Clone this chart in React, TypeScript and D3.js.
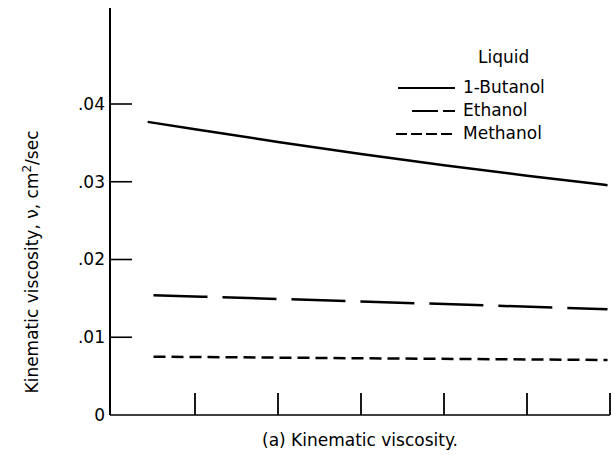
import React from "react";
import * as d3 from "d3";

const yTicks = [0, 0.01, 0.02, 0.03, 0.04];
const yTickLabels = ["0", ".01", ".02", ".03", ".04"];
const xTicks = [1, 2, 3, 4, 5, 6];

const butanolX = [0.43, 1, 2, 3, 4, 5, 5.97];
const butanolY = [0.0377, 0.03674, 0.03512, 0.03357, 0.03212, 0.03077, 0.02956];
const ethanolX = [0.5, 3, 5.97];
const ethanolY = [0.0154, 0.0146, 0.0136];
const methanolX = [0.5, 3, 5.97];
const methanolY = [0.0075, 0.0073, 0.00707];

const seriesNames = ["1-Butanol", "Ethanol", "Methanol"];
const dashes = ["none", "54 15", "12 6"];

const FONT = "'DejaVu Sans', sans-serif";

export default function App() {
  const x = d3.scaleLinear().domain([0, 6]).range([112, 610]);
  const y = d3.scaleLinear().domain([0, 0.04]).range([415, 104]);
  const line = d3
    .line<[number, number]>()
    .x((d) => x(d[0]))
    .y((d) => y(d[1]))
    .curve(d3.curveMonotoneX);

  const series = [
    butanolX.map((v, i) => [v, butanolY[i]] as [number, number]),
    ethanolX.map((v, i) => [v, ethanolY[i]] as [number, number]),
    methanolX.map((v, i) => [v, methanolY[i]] as [number, number]),
  ];

  const legendRows = [87, 110, 133];
  const legendStart = [398, 412, 396];

  return (
    <svg
      width={612}
      height={455}
      style={{ position: "absolute", left: 0, top: 0, background: "#fff" }}
    >
      <line x1={x(0) - 2} x2={x(0) - 2} y1={8} y2={y(0)} stroke="#000" strokeWidth={2} />
      <line x1={x(0) - 2} x2={x(6)} y1={y(0)} y2={y(0)} stroke="#000" strokeWidth={1.6} />
      {yTicks.slice(1).map((t) => (
        <line key={t} x1={x(0) - 2} x2={x(0) + 20} y1={y(t)} y2={y(t)} stroke="#000" strokeWidth={1.6} />
      ))}
      {yTicks.map((t, i) => (
        <text
          key={"l" + t}
          x={x(0) - 7}
          y={y(t)}
          dy="0.35em"
          textAnchor="end"
          fontFamily={FONT}
          fontSize={17}
        >
          {yTickLabels[i]}
        </text>
      ))}
      {xTicks.map((t) => (
        <line key={"x" + t} x1={x(t)} x2={x(t)} y1={y(0)} y2={y(0) - 22} stroke="#000" strokeWidth={1.8} />
      ))}

      {series.map((s, i) => (
        <path
          key={i}
          d={line(s) || ""}
          fill="none"
          stroke="#000"
          strokeWidth={2.5}
          strokeDasharray={dashes[i]}
        />
      ))}

      <text x={478} y={57} dy="0.35em" fontFamily={FONT} fontSize={17}>
        Liquid
      </text>
      {seriesNames.map((n, i) => (
        <g key={n}>
          <line
            x1={legendStart[i]}
            x2={455}
            y1={legendRows[i] + 1}
            y2={legendRows[i] + 1}
            stroke="#000"
            strokeWidth={2.2}
            strokeDasharray={i === 1 ? "26 5" : i === 2 ? "11 4" : "none"}
          />
          <text x={463} y={legendRows[i]} dy="0.35em" fontFamily={FONT} fontSize={17}>
            {n}
          </text>
        </g>
      ))}

      <text
        transform="translate(32,262) rotate(-90)"
        textAnchor="middle"
        dy="0.35em"
        fontFamily={FONT}
        fontSize={17}
      >
        Kinematic viscosity, ν, cm<tspan dy="-7" fontSize={12}>2</tspan>
        <tspan dy="7">/sec</tspan>
      </text>

      <text x={262} y={440} dy="0.35em" fontFamily={FONT} fontSize={17}>
        (a) Kinematic viscosity.
      </text>
    </svg>
  );
}
